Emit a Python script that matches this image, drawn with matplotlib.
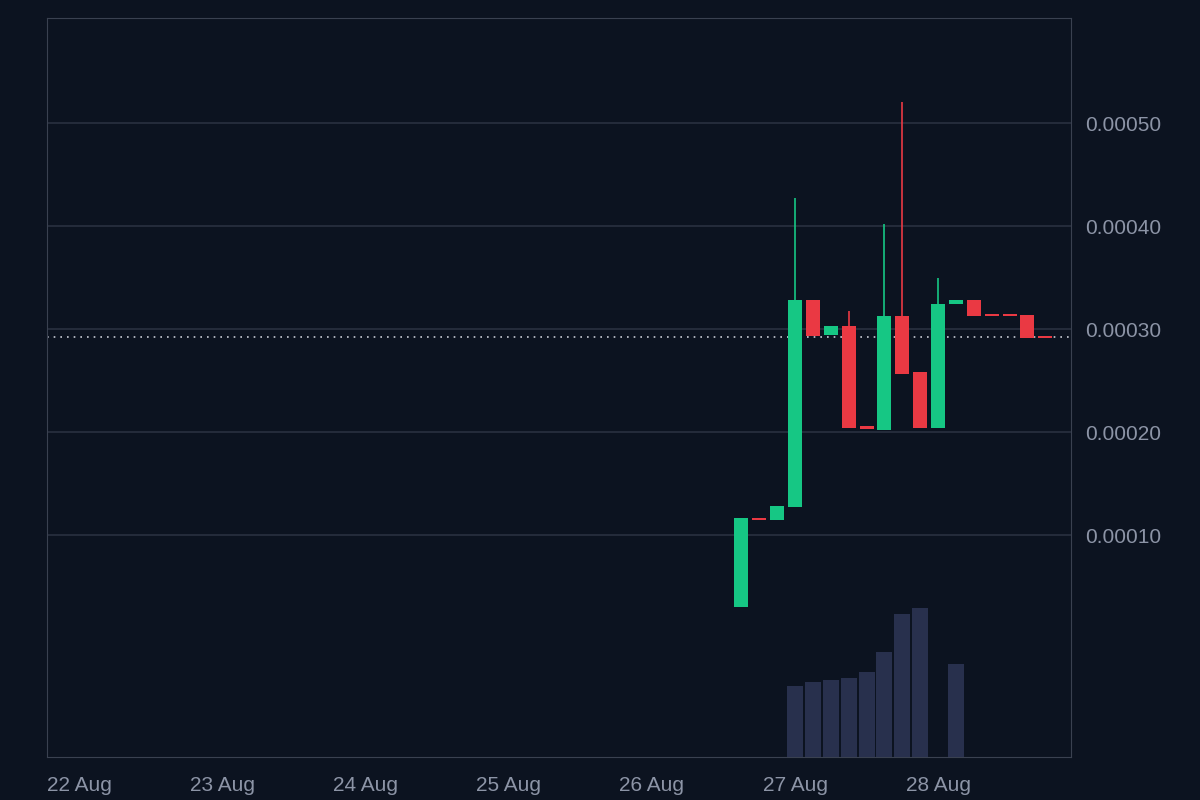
import matplotlib.pyplot as plt
import matplotlib.transforms as mtransforms

plt.rcParams['font.family'] = ['Liberation Sans', 'DejaVu Sans']

# 3-hour candles, time in hours since 22 Aug 00:00
hours = [111 + 3 * i for i in range(18)]
opens = [0.000030, 0.000116, 0.000115, 0.000127, 0.000328, 0.000294, 0.000303, 0.000206, 0.000202,
         0.000313, 0.000258, 0.000204, 0.000324, 0.000328, 0.000314, 0.000314, 0.000314, 0.000292]
closes = [0.000117, 0.000115, 0.000128, 0.000328, 0.000293, 0.000303, 0.000204, 0.000203, 0.000313,
          0.000256, 0.000204, 0.000324, 0.000328, 0.000313, 0.000313, 0.000313, 0.000291, 0.000291]
highs = [0.000117, 0.000116, 0.000128, 0.000427, 0.000328, 0.000303, 0.000318, 0.000206, 0.000402,
         0.000520, 0.000258, 0.000350, 0.000328, 0.000328, 0.000314, 0.000314, 0.000314, 0.000292]
lows = [0.000030, 0.000115, 0.000115, 0.000127, 0.000293, 0.000294, 0.000204, 0.000203, 0.000202,
        0.000256, 0.000204, 0.000204, 0.000324, 0.000313, 0.000313, 0.000313, 0.000291, 0.000291]
volumes = [0, 0, 0, 71, 75, 77, 79, 85, 105, 143, 149, 0, 93, 0, 0, 0, 0, 0]
last_price = 0.000292

day_labels = ["22 Aug", "23 Aug", "24 Aug", "25 Aug", "26 Aug", "27 Aug", "28 Aug"]
price_ticks = [0.0001, 0.0002, 0.0003, 0.0004, 0.0005]

BG = "#0c1320"
GREEN = "#16c784"
RED = "#ea3943"
VOL = "#28304d"
GRID = "#2a3140"
TEXT = "#8c94a6"

fig = plt.figure(figsize=(12, 8), dpi=100, facecolor=BG)
ax = fig.add_axes([0.0392, 0.05375, 0.8533, 0.92375])
ax.set_facecolor(BG)

# volume on its own axis, behind candles
axv = ax.twinx()
axv.set_zorder(0)
ax.set_zorder(1)
ax.patch.set_visible(False)
axv.set_facecolor(BG)
axv.bar(hours, volumes, width=2.7, color=VOL, zorder=1)
axv.set_ylim(0, 739)
axv.set_yticks([])
for s in axv.spines.values():
    s.set_visible(False)

for h, o, c, hi, lo in zip(hours, opens, closes, highs, lows):
    col = GREEN if c >= o else RED
    ax.vlines(h, lo, hi, color=col, linewidth=1.2, zorder=3)
    body = max(abs(c - o), 0.000002)
    ax.bar(h, body, bottom=min(o, c), width=2.35, color=col, zorder=4)

ax.axhline(last_price, color="#c8ccd6", linestyle=(0, (1, 3)), linewidth=1.2, zorder=2)

ax.set_xlim(-5.5, 144 + 22.3)
ax.set_ylim(-0.0001155, 0.000602)
ax.set_yticks(price_ticks)
ax.set_yticklabels([f"{v:.5f}" for v in price_ticks])
ax.yaxis.tick_right()
ax.grid(axis="y", color=GRID, linewidth=1.2)
ax.set_xticks([24 * i for i in range(7)])
ax.set_xticklabels(day_labels)
ax.tick_params(colors=TEXT, labelsize=15, length=0, pad=10)
ax.tick_params(axis="x", pad=14)
lbl0 = ax.get_xticklabels()[0]
lbl0.set_transform(lbl0.get_transform() + mtransforms.ScaledTranslation(0, 0, fig.dpi_scale_trans))
lbl0.set_ha("left")
lbl0.set_transform(lbl0.get_transform() + mtransforms.ScaledTranslation(-0.33, 0, fig.dpi_scale_trans))
for s in ax.spines.values():
    s.set_color("#3a4150")

fig.savefig("out.png", facecolor=BG)
